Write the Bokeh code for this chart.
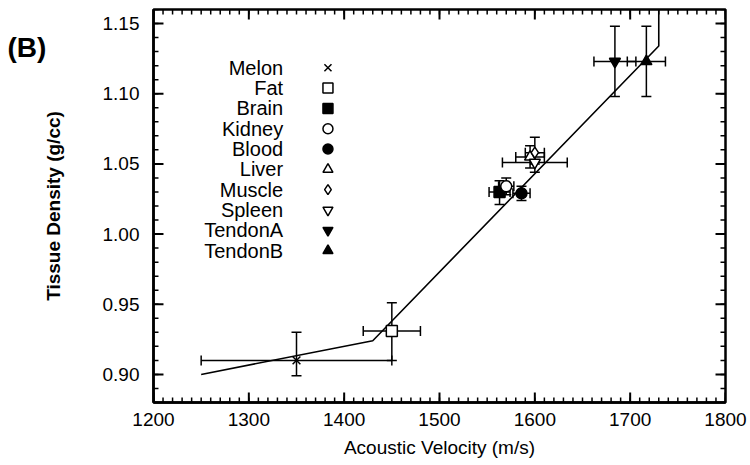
import numpy as np
from bokeh.plotting import figure
from bokeh.models import (ColumnDataSource, Range1d, SingleIntervalTicker,
                          PrintfTickFormatter, Label)
from bokeh.core.properties import value
from bokeh.embed import file_html
from bokeh.resources import INLINE

# ---- data ----
tissues = ["Melon", "Fat", "Brain", "Kidney", "Blood", "Liver", "Muscle", "Spleen", "TendonA", "TendonB"]
velocity = [1350, 1450, 1563, 1570, 1586, 1595, 1600, 1600, 1684, 1717]
vel_err = [100, 30, 11, 8, 9, 15, 10, 34, 22, 20]
density = [0.910, 0.931, 1.030, 1.034, 1.029, 1.055, 1.058, 1.051, 1.123, 1.123]
dens_lo = [0.899, 0.910, 1.021, 1.028, 1.024, 1.047, 1.050, 1.044, 1.098, 1.098]
dens_hi = [0.930, 0.951, 1.038, 1.040, 1.034, 1.063, 1.069, 1.058, 1.148, 1.148]

fit_velocity = [1250, 1430, 1730, 1730]
fit_density = [0.900, 0.924, 1.134, 1.160]

X_RANGE = (1200, 1800)
Y_RANGE = (0.88, 1.16)
x_major, x_minor = 100, 10
y_major, y_minor = 0.05, 0.01

# ---- layout / styles ----
W, H = 750, 465
B_LEFT, B_RIGHT, B_TOP, B_BOTTOM = 152, 25, 9, 63
markers = ["x", "square", "square", "circle", "circle", "triangle", "diamond",
           "inverted_triangle", "inverted_triangle", "triangle"]
fills = ["black", "white", "black", "white", "black", "white", "white", "white", "black", "black"]
FONT = "Liberation Sans"

p = figure(width=W, height=H, output_backend="svg", toolbar_location=None,
           x_range=Range1d(*X_RANGE), y_range=Range1d(*Y_RANGE),
           min_border_left=B_LEFT, min_border_right=B_RIGHT,
           min_border_top=B_TOP, min_border_bottom=B_BOTTOM,
           x_axis_label="Acoustic Velocity (m/s)", y_axis_label="Tissue Density (g/cc)")
p.xgrid.visible = False
p.ygrid.visible = False
p.outline_line_color = "black"
p.outline_line_width = 2.5

for ax in (p.xaxis[0], p.yaxis[0]):
    ax.axis_line_width = 2.5
    ax.axis_line_color = "black"
    ax.major_tick_in = 0
    ax.major_tick_out = 0
    ax.minor_tick_in = 0
    ax.minor_tick_out = 0
    ax.major_label_text_font = FONT
    ax.major_label_text_font_size = "19px"
    ax.major_label_text_color = "black"
    ax.axis_label_text_font = FONT
    ax.axis_label_text_font_size = "19px"
    ax.axis_label_text_color = "black"

xa = p.xaxis[0]
xa.ticker = SingleIntervalTicker(interval=x_major, num_minor_ticks=10)
xa.major_label_standoff = 10
xa.axis_label_text_font_style = "normal"
xa.axis_label_standoff = 8

ya = p.yaxis[0]
ya.ticker = SingleIntervalTicker(interval=y_major, num_minor_ticks=5)
ya.formatter = PrintfTickFormatter(format="%.2f")
ya.major_label_standoff = 14
ya.axis_label_text_font_style = "bold"
ya.axis_label_standoff = 36

# ---- data source ----
src = ColumnDataSource(dict(
    tissue=tissues, v=velocity, d=density,
    v_lo=[v - e for v, e in zip(velocity, vel_err)],
    v_hi=[v + e for v, e in zip(velocity, vel_err)],
    d_lo=dens_lo, d_hi=dens_hi, marker=markers, fill=fills,
))

# fit line
p.line(fit_velocity, fit_density, line_color="black", line_width=1.6)

# error bars (bars as segments, caps as dash markers)
EB = dict(line_color="black", line_width=1.5)
p.segment(x0="v_lo", y0="d", x1="v_hi", y1="d", source=src, **EB)
p.segment(x0="v", y0="d_lo", x1="v", y1="d_hi", source=src, **EB)
p.scatter(x="v_lo", y="d", source=src, marker="dash", size=10, angle=np.pi / 2, **EB)
p.scatter(x="v_hi", y="d", source=src, marker="dash", size=10, angle=np.pi / 2, **EB)
p.scatter(x="v", y="d_lo", source=src, marker="dash", size=10, **EB)
p.scatter(x="v", y="d_hi", source=src, marker="dash", size=10, **EB)

p.scatter("v", "d", source=src, marker="marker", fill_color="fill",
          line_color="black", line_width=1.5, size=11)

# inward ticks on all four sides, one ColumnDataSource of short segments
dx_px = (X_RANGE[1] - X_RANGE[0]) / (W - B_LEFT - B_RIGHT)
dy_px = (Y_RANGE[1] - Y_RANGE[0]) / (H - B_TOP - B_BOTTOM)

def grid_vals(step, lo, hi):
    n = int(round((hi - lo) / step))
    return [float(lo + i * step) for i in range(n + 1)]

tk = dict(x0=[], y0=[], x1=[], y1=[], w=[])
def add_tick(x0, y0, x1, y1, w):
    tk["x0"].append(x0); tk["y0"].append(y0)
    tk["x1"].append(x1); tk["y1"].append(y1); tk["w"].append(w)

for step, length, lw in [(x_minor, 5, 1.5), (x_major, 10, 2.0)]:
    for xv in grid_vals(step, *X_RANGE):
        add_tick(xv, Y_RANGE[0], xv, Y_RANGE[0] + length * dy_px, lw)
        add_tick(xv, Y_RANGE[1], xv, Y_RANGE[1] - length * dy_px, lw)
for step, length, lw in [(y_minor, 5, 1.5), (y_major, 10, 2.0)]:
    lo = Y_RANGE[0] if step == y_minor else 0.90
    hi = Y_RANGE[1] if step == y_minor else 1.15
    for yv in grid_vals(step, lo, hi):
        add_tick(X_RANGE[0], yv, X_RANGE[0] + length * dx_px, yv, lw)
        add_tick(X_RANGE[1], yv, X_RANGE[1] - length * dx_px, yv, lw)

tick_src = ColumnDataSource(tk)
p.segment(x0="x0", y0="y0", x1="x1", y1="y1", source=tick_src,
          line_color="black", line_width="w")

# legend (label right-aligned, symbol to the right)
LEG_TEXT_X = 1336
LEG_MARK_X = 1383
LEG_Y0 = 1.1185
LEG_DY = 0.01448
leg_y = [LEG_Y0 - i * LEG_DY for i in range(len(tissues))]
leg = ColumnDataSource(dict(tx=[LEG_TEXT_X] * len(tissues), mx=[LEG_MARK_X] * len(tissues),
                            y=leg_y, name=tissues, marker=markers, fill=fills))
p.text("tx", "y", text="name", source=leg, text_align="right", text_baseline="middle",
       text_font=value(FONT), text_font_size="20px", text_color="black")
p.scatter("mx", "y", source=leg, marker="marker", fill_color="fill",
          line_color="black", line_width=1.5, size=10)

# panel tag, placed in the left side panel
tag = Label(x=7, y=355, x_units="screen", y_units="screen", text="(B)", text_font=FONT,
            text_font_size="28px", text_font_style="bold", text_baseline="middle",
            text_color="black")
p.add_layout(tag, "left")

open("out.html", "w").write(file_html(p, INLINE))
